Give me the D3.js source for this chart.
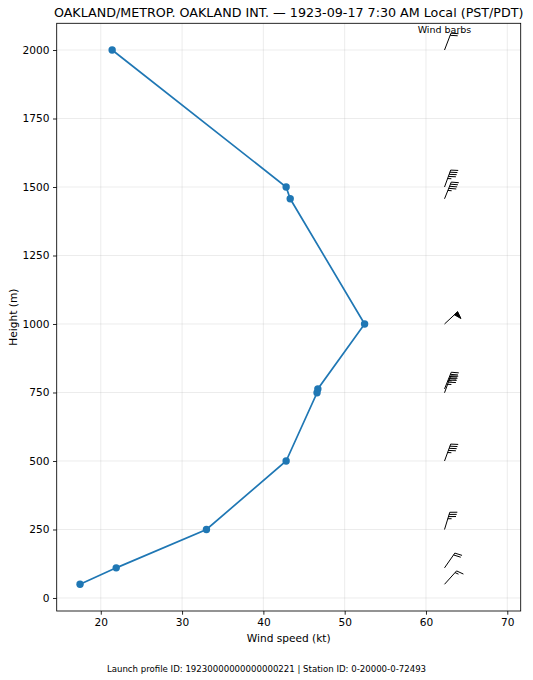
<!DOCTYPE html>
<html>
<head>
<meta charset="utf-8">
<script src="https://cdn.jsdelivr.net/npm/d3@7"></script>
<style>
  body { margin: 0; background: #fff; }
  svg { display: block; font-family: "DejaVu Sans", sans-serif; }
</style>
</head>
<body>
<div id="graph"></div>
<script>
const heights = [50, 110, 250, 500, 749, 763, 1000, 1457, 1500, 2000]
const speeds = [17.45, 21.9, 33.0, 42.8, 46.6, 46.7, 52.45, 43.3, 42.8, 21.4]
// direction the wind comes from (deg), used for the barbs
const directions = [42, 35, 17, 20, 20, 22, 47, 22, 20, 21]

const xTicks = [20, 30, 40, 50, 60, 70]
const yTicks = [0, 250, 500, 750, 1000, 1250, 1500, 1750, 2000]
const xDomain = [14.58, 71.65]
const yDomain = [-47.5, 2097.5]
const barbColumn = 62.28

const title = 'OAKLAND/METROP. OAKLAND INT. \u2014 1923-09-17 7:30 AM Local (PST/PDT)'
const footer = 'Launch profile ID: 19230000000000000221 | Station ID: 0-20000-0-72493'

const width = 533
const height = 680
const margin = { top: 23.3, right: 12.3, bottom: 69, left: 56.7 }
const blue = '#1f77b4'

const draw = () => {
    const svg = d3.select('#graph')
        .append('svg')
        .attr('width', width)
        .attr('height', height)

    const x = d3.scaleLinear().domain(xDomain).range([margin.left, width - margin.right])
    const y = d3.scaleLinear().domain(yDomain).range([height - margin.bottom, margin.top])

    // grid
    const grid = svg.append('g')
    grid.selectAll('.gx').data(xTicks).enter().append('line')
        .attr('x1', d => x(d)).attr('x2', d => x(d))
        .attr('y1', margin.top).attr('y2', height - margin.bottom)
        .attr('stroke', '#b0b0b0').attr('stroke-opacity', 0.3).attr('stroke-width', 0.8)
    grid.selectAll('.gy').data(yTicks).enter().append('line')
        .attr('y1', d => y(d)).attr('y2', d => y(d))
        .attr('x1', margin.left).attr('x2', width - margin.right)
        .attr('stroke', '#b0b0b0').attr('stroke-opacity', 0.3).attr('stroke-width', 0.8)

    // axes
    const xAxis = svg.append('g')
        .attr('transform', 'translate(0,' + (height - margin.bottom) + ')')
        .call(d3.axisBottom(x).tickValues(xTicks).tickFormat(d3.format('d')).tickSize(3.7).tickPadding(3.5))
    const yAxis = svg.append('g')
        .attr('transform', 'translate(' + margin.left + ',0)')
        .call(d3.axisLeft(y).tickValues(yTicks).tickFormat(d3.format('d')).tickSize(3.7).tickPadding(3.5))
    ;[xAxis, yAxis].forEach(a => {
        a.select('.domain').remove()
        a.selectAll('text').attr('font-size', 10.6).attr('fill', '#000')
            .attr('font-family', '"DejaVu Sans", sans-serif')
        a.selectAll('line').attr('stroke', '#000').attr('stroke-width', 0.85)
    })

    // profile line
    const pts = heights.map((h, i) => ({ h: h, s: speeds[i], dir: directions[i] }))
    const line = d3.line().x(d => x(d.s)).y(d => y(d.h))
    svg.append('path')
        .datum(pts)
        .attr('d', line)
        .attr('fill', 'none')
        .attr('stroke', blue)
        .attr('stroke-width', 1.7)
    svg.selectAll('circle')
        .data(pts)
        .enter().append('circle')
        .attr('cx', d => x(d.s))
        .attr('cy', d => y(d.h))
        .attr('r', 3.7)
        .attr('fill', blue)

    // wind barbs, matplotlib-ish: 50 = pennant, 10 = full barb, 5 = half
    const L = 18
    const fh = 0.4 * L, fw = 0.25 * L, sp = 0.125 * L
    const barbs = svg.append('g')
    pts.forEach(d => {
        const bx = x(barbColumn), by = y(d.h)
        const a = d.dir * Math.PI / 180
        const dx = Math.sin(a), dy = -Math.cos(a)   // along staff
        const nx = Math.cos(a), ny = Math.sin(a)    // to the right of it
        const tipX = bx + dx * L, tipY = by + dy * L
        let mag = 5 * Math.round(d.s / 5)
        if (d.s / 5 % 1 === 0.5) mag = 5 * (2 * Math.round(d.s / 10))
        const nFlag = Math.floor(mag / 50)
        const nBarb = Math.floor((mag % 50) / 10)
        const half = (mag % 10) >= 5

        let path = 'M' + bx + ',' + by + 'L' + tipX + ',' + tipY
        let off = 0
        const at = o => [tipX - dx * o, tipY - dy * o]
        for (let i = 0; i < nFlag; i++) {
            const p = at(off)
            const q = [p[0] + nx * fh - dx * fw / 2, p[1] + ny * fh - dy * fw / 2]
            const r = at(off + fw)
            barbs.append('path')
                .attr('d', 'M' + p + 'L' + q + 'L' + r + 'Z')
                .attr('fill', '#000').attr('stroke', '#000').attr('stroke-width', 1)
            off += fw + sp
        }
        for (let i = 0; i < nBarb; i++) {
            const p = at(off)
            path += 'M' + p + 'L' + (p[0] + nx * fh + dx * fw / 2) + ',' + (p[1] + ny * fh + dy * fw / 2)
            off += sp
        }
        if (half) {
            if (nFlag + nBarb === 0) off += 1.5 * sp
            const p = at(off)
            path += 'M' + p + 'L' + (p[0] + nx * fh / 2 + dx * fw / 4) + ',' + (p[1] + ny * fh / 2 + dy * fw / 4)
        }
        barbs.append('path')
            .attr('d', path)
            .attr('fill', 'none')
            .attr('stroke', '#000')
            .attr('stroke-width', 1)
    })

    svg.append('text')
        .attr('x', x(barbColumn)).attr('y', 32.7)
        .attr('text-anchor', 'middle')
        .attr('font-size', 9.5)
        .text('Wind barbs')

    // frame
    svg.append('rect')
        .attr('x', margin.left).attr('y', margin.top)
        .attr('width', width - margin.left - margin.right)
        .attr('height', height - margin.top - margin.bottom)
        .attr('fill', 'none').attr('stroke', '#000').attr('stroke-width', 0.85)

    // labels
    svg.append('text')
        .attr('x', (margin.left + width - margin.right) / 2).attr('y', 17.3)
        .attr('text-anchor', 'middle').attr('font-size', 12.7)
        .text(title)
    svg.append('text')
        .attr('x', (margin.left + width - margin.right) / 2).attr('y', 642)
        .attr('text-anchor', 'middle').attr('font-size', 10.6)
        .text('Wind speed (kt)')
    svg.append('text')
        .attr('transform', 'translate(17,' + (margin.top + height - margin.bottom) / 2 + ') rotate(-90)')
        .attr('text-anchor', 'middle').attr('font-size', 10.6)
        .text('Height (m)')
    svg.append('text')
        .attr('x', width / 2).attr('y', 671.5)
        .attr('text-anchor', 'middle').attr('font-size', 8.6)
        .text(footer)
}

draw()
</script>
</body>
</html>
